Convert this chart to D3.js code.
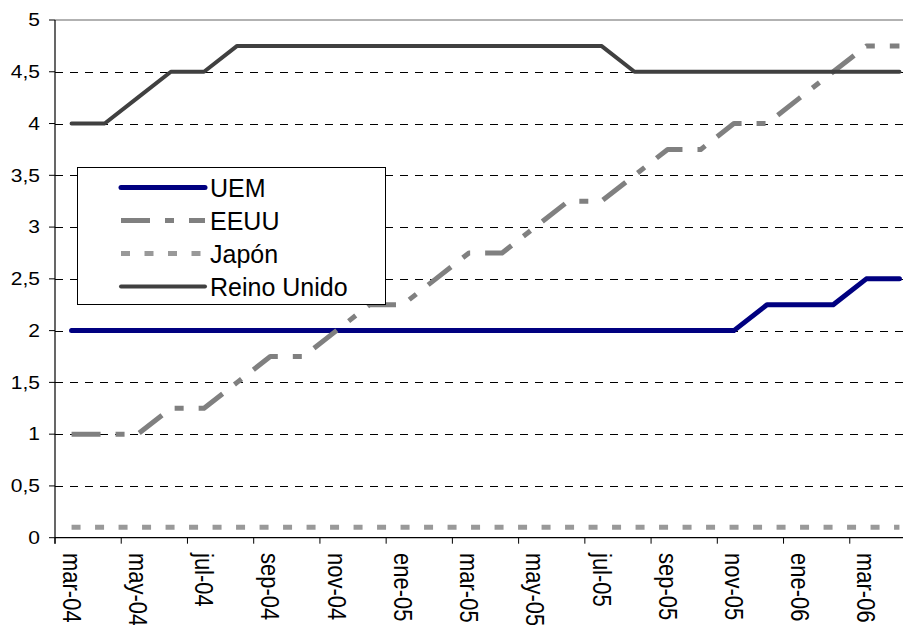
<!DOCTYPE html>
<html>
<head>
<meta charset="utf-8">
<script src="https://cdn.jsdelivr.net/npm/d3@7"></script>
<style>
	body { margin: 0; background: #fff; }
	svg { display: block; font-family: 'Liberation Sans', Arial, sans-serif; }
</style>
</head>
<body>
<div id="chart"></div>
<script>
// categories (monthly) and the four rate series
const months = [
	'mar-04', 'abr-04', 'may-04', 'jun-04', 'jul-04', 'ago-04', 'sep-04', 'oct-04', 'nov-04', 'dic-04',
	'ene-05', 'feb-05', 'mar-05', 'abr-05', 'may-05', 'jun-05', 'jul-05', 'ago-05', 'sep-05', 'oct-05',
	'nov-05', 'dic-05', 'ene-06', 'feb-06', 'mar-06', 'abr-06'
];
const uem = [2, 2, 2, 2, 2, 2, 2, 2, 2, 2, 2, 2, 2, 2, 2, 2, 2, 2, 2, 2, 2, 2.25, 2.25, 2.25, 2.5, 2.5];
const eeuu = [1, 1, 1, 1.25, 1.25, 1.5, 1.75, 1.75, 2, 2.25, 2.25, 2.5, 2.75, 2.75, 3, 3.25, 3.25, 3.5, 3.75, 3.75, 4, 4, 4.25, 4.5, 4.75, 4.75];
const japon = [0.1, 0.1, 0.1, 0.1, 0.1, 0.1, 0.1, 0.1, 0.1, 0.1, 0.1, 0.1, 0.1, 0.1, 0.1, 0.1, 0.1, 0.1, 0.1, 0.1, 0.1, 0.1, 0.1, 0.1, 0.1, 0.1];
const reinoUnido = [4, 4, 4.25, 4.5, 4.5, 4.75, 4.75, 4.75, 4.75, 4.75, 4.75, 4.75, 4.75, 4.75, 4.75, 4.75, 4.75, 4.5, 4.5, 4.5, 4.5, 4.5, 4.5, 4.5, 4.5, 4.5];
const yTicks = [0, 0.5, 1, 1.5, 2, 2.5, 3, 3.5, 4, 4.5, 5];

const series = [
	{ name: 'UEM', values: uem, color: '#000080', width: 5, dash: null, cap: 'round' },
	{ name: 'EEUU', values: eeuu, color: '#808080', width: 5, dash: '29,15,9,15', cap: 'butt' },
	{ name: 'Japón', values: japon, color: '#999999', width: 5, dash: '9,14.5', cap: 'butt' },
	{ name: 'Reino Unido', values: reinoUnido, color: '#404040', width: 4, dash: null, cap: 'round' }
];

const W = 903, H = 625;
const plot = { left: 55, right: 916, top: 20, bottom: 537.7 };

const svg = d3.select('#chart').append('svg').attr('width', W).attr('height', H);

// scales
const x = d3.scaleBand().domain(months).range([ plot.left, plot.right ]).padding(0);
const xc = (m) => x(m) + x.bandwidth() / 2;
const y = d3.scaleLinear().domain([ 0, 5 ]).range([ plot.bottom, plot.top ]);

// gridlines
svg.append('g')
	.selectAll('line')
	.data(yTicks.filter((t) => t > 0 && t < 5))
	.enter()
	.append('line')
	.attr('x1', plot.left)
	.attr('x2', W)
	.attr('y1', (d) => Math.round(y(d)) + 0.5)
	.attr('y2', (d) => Math.round(y(d)) + 0.5)
	.style('stroke', '#000')
	.style('stroke-width', 1)
	.style('stroke-dasharray', '8,7');

// top border of plot area
svg.append('line')
	.attr('x1', plot.left).attr('x2', W)
	.attr('y1', y(5)).attr('y2', y(5))
	.style('stroke', '#999').style('stroke-width', 1.5);

// series lines
const line = d3.line()
	.x((d, i) => xc(months[i]))
	.y((d) => y(d));

svg.append('g')
	.selectAll('path')
	.data(series)
	.enter()
	.append('path')
	.attr('d', (s) => line(s.values))
	.style('fill', 'none')
	.style('stroke', (s) => s.color)
	.style('stroke-width', (s) => s.width)
	.style('stroke-dasharray', (s) => s.dash)
	.style('stroke-linecap', (s) => s.cap)
	.style('stroke-linejoin', 'round');

// y axis
svg.append('line')
	.attr('x1', plot.left).attr('x2', plot.left)
	.attr('y1', plot.top).attr('y2', plot.bottom + 6)
	.style('stroke', '#000').style('stroke-width', 1.2);

const yAxis = svg.append('g');
yAxis.selectAll('line')
	.data(yTicks)
	.enter()
	.append('line')
	.attr('x1', plot.left - 6).attr('x2', plot.left)
	.attr('y1', (d) => y(d)).attr('y2', (d) => y(d))
	.style('stroke', '#000');
yAxis.selectAll('text')
	.data(yTicks)
	.enter()
	.append('text')
	.attr('transform', (d) => 'translate(40,' + y(d) + ') scale(1.2,1)')
	.attr('dy', '0.36em')
	.style('text-anchor', 'end')
	.style('font-size', '17.5px')
	.style('fill', '#000')
	.text((d) => String(d).replace('.', ','));

// x axis (ticks at category boundaries, every 2 months)
svg.append('line')
	.attr('x1', plot.left).attr('x2', W)
	.attr('y1', plot.bottom).attr('y2', plot.bottom)
	.style('stroke', '#000').style('stroke-width', 1.2);

const shown = months.filter((m, i) => i % 2 === 0);
const xAxis = svg.append('g');
xAxis.selectAll('line')
	.data(shown)
	.enter()
	.append('line')
	.attr('x1', (m) => x(m)).attr('x2', (m) => x(m))
	.attr('y1', plot.bottom).attr('y2', plot.bottom + 6)
	.style('stroke', '#000');
xAxis.selectAll('text')
	.data(shown)
	.enter()
	.append('text')
	.attr('transform', (m) => 'translate(' + xc(m) + ',553) rotate(90) scale(1,1.15)')
	.attr('dy', '0.35em')
	.style('text-anchor', 'start')
	.style('font-size', '22px')
	.style('fill', '#000')
	.text((m) => m);

// legend
const legend = svg.append('g');
legend.append('rect')
	.attr('x', 77.5).attr('y', 167.5)
	.attr('width', 308).attr('height', 137)
	.style('fill', '#fff')
	.style('stroke', '#000')
	.style('stroke-width', 1);

const item = legend.selectAll('.item')
	.data(series)
	.enter()
	.append('g')
	.attr('class', 'item')
	.attr('transform', (s, i) => 'translate(0,' + (187.5 + i * 33) + ')');
item.append('line')
	.attr('x1', 121).attr('x2', 205)
	.style('stroke', (s) => s.color)
	.style('stroke-width', (s) => s.width)
	.style('stroke-dasharray', (s) => s.dash)
	.style('stroke-linecap', (s) => s.cap);
item.append('text')
	.attr('x', 210)
	.attr('dy', '0.36em')
	.style('font-size', '25px')
	.style('fill', '#000')
	.text((s) => s.name);
</script>
</body>
</html>
